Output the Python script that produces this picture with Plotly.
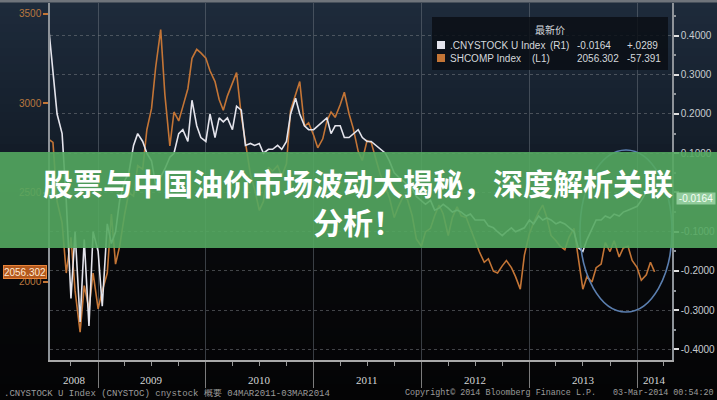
import pandas as pd
import plotly.graph_objects as go

# ---------------- data ----------------
dates = pd.date_range("2008-07-15", "2014-03-01", freq="SMS")  # semi-monthly observations

shcomp = [
    # 2008 (Jul15 .. Dec15)
    2800, 2780, 2450, 2330, 2050, 2250, 1950, 1720, 1980, 1850, 2050,
    # 2009
    1850, 1950, 2050, 2380, 2100, 2200, 2380, 2500, 2480, 2650, 2630, 2850,
    2970, 3200, 3410, 3050, 2760, 2950, 2900, 2980, 3080, 3250, 3300, 3280,
    # 2010
    3250, 3180, 3120, 3020, 2960, 3040, 3110, 3170, 2930, 2780, 2600, 2520,
    2400, 2450, 2640, 2620, 2650, 2590, 2660, 2960, 3050, 3120, 2870, 2890,
    # 2011
    2820, 2750, 2800, 2900, 2950, 2920, 2990, 3060, 2940, 2860, 2730, 2680,
    2790, 2780, 2680, 2600, 2530, 2470, 2360, 2420, 2480, 2460, 2370, 2240,
    # 2012
    2200, 2280, 2300, 2370, 2430, 2380, 2260, 2360, 2420, 2370, 2360, 2300,
    2220, 2170, 2110, 2130, 2060, 2050, 2090, 2120, 2080, 2030, 1960, 2150,
    # 2013
    2270, 2330, 2390, 2430, 2360, 2260, 2230, 2200, 2180, 2250, 2300, 2150,
    1960, 2030, 2000, 2080, 2100, 2220, 2170, 2230, 2140, 2190, 2200, 2120,
    # 2014
    2080, 2010, 2040, 2110, 2056.302,
]

cnystock = [
    # 2008
    0.44, 0.30, 0.20, 0.15, -0.02, -0.27, -0.10, -0.33, -0.12, -0.34, -0.10,
    # 2009
    -0.15, -0.29, -0.08, -0.13, -0.10, -0.02, 0.03, 0.05, 0.12, 0.15, 0.13, 0.10,
    0.08, 0.02, 0.04, 0.06, 0.09, 0.10, 0.15, 0.16, 0.13, 0.235, 0.17, 0.14,
    # 2010
    0.13, 0.20, 0.14, 0.19, 0.18, 0.19, 0.16, 0.22, 0.21, 0.12, 0.125, 0.12,
    0.125, 0.10, 0.11, 0.11, 0.12, 0.11, 0.13, 0.20, 0.24, 0.20, 0.17, 0.16,
    # 2011
    0.16, 0.17, 0.18, 0.19, 0.15, 0.17, 0.17, 0.14, 0.14, 0.15, 0.16, 0.14,
    0.13, 0.13, 0.12, 0.11, 0.10, 0.08, 0.05, 0.04, 0.03, 0.02, 0.01, -0.01,
    # 2012
    -0.02, -0.03, -0.02, -0.045, -0.04, -0.03, -0.04, -0.05, -0.045, -0.05, -0.06, -0.055,
    -0.07, -0.07, -0.07, -0.085, -0.09, -0.10, -0.11, -0.10, -0.09, -0.10, -0.095, -0.09,
    # 2013
    -0.07, -0.08, -0.06, -0.07, -0.065, -0.07, -0.08, -0.075, -0.08, -0.09, -0.10, -0.14,
    -0.15, -0.12, -0.09, -0.07, -0.07, -0.06, -0.065, -0.055, -0.06, -0.05, -0.045, -0.04,
    # 2014
    -0.035, -0.02, 0.00, 0.02, -0.0164,
]

years = [2008, 2009, 2010, 2011, 2012, 2013, 2014]
left_ticks = [2000, 2500, 3000, 3500]
right_ticks = [0.4, 0.3, 0.2, 0.1, 0.0, -0.1, -0.2, -0.3, -0.4]

legend_header = "最新价"
legend_names = [".CNYSTOCK U Index", "SHCOMP Index"]
legend_axes = ["(R1)", "(L1)"]
legend_last = ["-0.0164", "2056.302"]
legend_change = ["+.0289", "-57.391"]

title_lines = ["股票与中国油价市场波动大揭秘，深度解析关联", "分析！"]
footer_left = ".CNYSTOCK U Index (CNYSTOC) cnystock 概要 04MAR2011-03MAR2014"
footer_mid = "Copyright© 2014 Bloomberg Finance L.P."
footer_right = "03-Mar-2014 00:54:20"

# ---------------- geometry helpers ----------------
W, H = 717, 400
ML, MR, MT, MB = 50, 45, 3, 40
PW = W - ML - MR
PH = H - MT - MB


def px(x):
    return (x - ML) / PW


def py(y):
    return (H - MB - y) / PH


X0 = pd.Timestamp("2008-07-22")
X1 = pd.Timestamp("2014-04-29")

ORANGE = "#c47536"
WHITE = "#e4e4ec"

fig = go.Figure()
fig.add_trace(go.Scatter(x=dates, y=shcomp, yaxis="y", mode="lines",
                         line=dict(color=ORANGE, width=1.6), hoverinfo="skip"))
fig.add_trace(go.Scatter(x=dates, y=cnystock, yaxis="y2", mode="lines",
                         line=dict(color=WHITE, width=1.6), hoverinfo="skip"))

shapes = []

# background gradient (navy -> black)
stops = [(0, (30, 43, 59)), (140, (20, 30, 42)), (250, (7, 8, 11)), (400, (4, 4, 5))]


def bg_col(y):
    for (ya, ca), (yb, cb) in zip(stops[:-1], stops[1:]):
        if ya <= y <= yb:
            t = (y - ya) / (yb - ya)
            return "rgb(%d,%d,%d)" % tuple(round(a + (b - a) * t) for a, b in zip(ca, cb))
    return "rgb(4,4,5)"


N = 50
for i in range(N):
    ya = H * i / N
    yb = H * (i + 1) / N
    shapes.append(dict(type="rect", xref="paper", yref="paper", layer="below",
                       x0=px(0), x1=px(W), y0=py(yb + 0.5), y1=py(ya),
                       fillcolor=bg_col((ya + yb) / 2), line=dict(width=0)))

# top border
shapes.append(dict(type="rect", xref="paper", yref="paper", layer="above",
                   x0=px(0), x1=px(W), y0=py(2.5), y1=py(0),
                   fillcolor="#6f747b", line=dict(width=0)))

# legend box
shapes.append(dict(type="rect", xref="paper", yref="paper", layer="above",
                   x0=px(432), x1=px(668), y0=py(70), y1=py(17),
                   fillcolor="rgba(10,14,20,0.82)", line=dict(width=0)))
for i, col in enumerate([WHITE, ORANGE]):
    yc = 45 + 13 * i
    shapes.append(dict(type="rect", xref="paper", yref="paper", layer="above",
                       x0=px(437), x1=px(445), y0=py(yc + 4), y1=py(yc - 4),
                       fillcolor=col, line=dict(width=0)))

# hand-drawn ellipse
shapes.append(dict(type="circle", xref="paper", yref="paper", layer="above",
                   x0=px(580), x1=px(672), y0=py(312), y1=py(150),
                   line=dict(color="#5b7fb0", width=1.6)))

# green banner
shapes.append(dict(type="rect", xref="paper", yref="paper", layer="above",
                   x0=px(0), x1=px(W), y0=py(248), y1=py(152),
                   fillcolor="rgba(84,168,96,0.9)", line=dict(width=0)))

annotations = []

# last-value markers on the axes
annotations.append(dict(xref="paper", yref="y", x=px(25), y=shcomp[-1],
                        text=f"{shcomp[-1]:.3f}", showarrow=False,
                        xanchor="center", yanchor="middle", width=42, height=12,
                        bgcolor="#b4591d", bordercolor="#e8843a", borderwidth=1, borderpad=0,
                        font=dict(family="Liberation Sans", size=10, color="#ffe9d6")))
annotations.append(dict(xref="paper", yref="y2", x=px(696), y=cnystock[-1],
                        text=f"{cnystock[-1]:.4f}", showarrow=False,
                        xanchor="center", yanchor="middle", width=38, height=11,
                        bgcolor="#92cc9c", borderpad=0,
                        font=dict(family="Liberation Sans", size=10, color="#f4fff4")))

# legend texts
lf = dict(family="Liberation Sans", size=10, color="#d4d8dc")
annotations.append(dict(xref="paper", yref="paper", x=px(550), y=py(30), text=legend_header,
                        showarrow=False, xanchor="center", yanchor="middle",
                        font=dict(family="Noto Sans CJK SC", size=10, color="#d4d8dc")))
for i in range(2):
    yc = 45 + 13 * i
    for xpos, txt in [(448, legend_names[i]), (548 - 18 * i, legend_axes[i]),
                      (575, legend_last[i]), (625, legend_change[i])]:
        annotations.append(dict(xref="paper", yref="paper", x=px(xpos), y=py(yc), text=txt,
                                showarrow=False, xanchor="left", yanchor="middle", font=lf))

# year labels centred in the visible part of each year
for yr in years:
    a = max(pd.Timestamp(year=yr, month=1, day=1), X0)
    b = min(pd.Timestamp(year=yr + 1, month=1, day=1), X1)
    mid = a + (b - a) / 2
    annotations.append(dict(xref="x", yref="paper", x=mid, y=py(380), text=str(yr),
                            showarrow=False, xanchor="center", yanchor="middle",
                            font=dict(family="Liberation Serif", size=11, color="#d6d6d6")))

# footer
ff = dict(family="Liberation Mono", size=9, color="#9c9c9c")
ff2 = dict(family="Liberation Mono", size=8.4, color="#9c9c9c")
annotations.append(dict(xref="paper", yref="paper", x=px(2), y=py(393), text=footer_left,
                        showarrow=False, xanchor="left", yanchor="middle", font=ff))
annotations.append(dict(xref="paper", yref="paper", x=px(403), y=py(393), text=footer_mid,
                        showarrow=False, xanchor="left", yanchor="middle", font=ff2))
annotations.append(dict(xref="paper", yref="paper", x=px(716), y=py(393), text=footer_right,
                        showarrow=False, xanchor="right", yanchor="middle", font=ff2))

# banner title
annotations.append(dict(xref="paper", yref="paper", x=px(358), y=py(201),
                        text="<b>" + "<br>".join(title_lines) + "</b>", showarrow=False,
                        xanchor="center", yanchor="middle", align="center",
                        font=dict(family="Noto Sans CJK SC", size=30, color="#ffffff")))

fig.update_layout(
    width=W, height=H, template="none",
    margin=dict(l=ML, r=MR, t=MT, b=MB, pad=0, autoexpand=False),
    paper_bgcolor="#040405", plot_bgcolor="rgba(0,0,0,0)",
    showlegend=False,
    shapes=shapes, annotations=annotations,
    xaxis=dict(type="date", range=[X0, X1], automargin=False,
               tickmode="array", tickvals=[pd.Timestamp(year=y, month=1, day=1) for y in years[1:]],
               showticklabels=False, ticks="outside", ticklen=26, tickwidth=1,
               tickcolor="#7c7c7c",
               showgrid=True, gridcolor="rgba(110,118,128,0.5)", gridwidth=1,
               showline=True, linecolor="#a9a9a9", linewidth=2, zeroline=False,
               minor=dict(dtick="M3", tick0="2008-01-01", ticks="outside", ticklen=4,
                          tickcolor="#9a9a9a", showgrid=False)),
    yaxis=dict(range=[1564, 3559], automargin=False, tickmode="array",
               tickvals=left_ticks, ticktext=[str(v) for v in left_ticks],
               ticks="outside", ticklen=5, tickwidth=2, tickcolor=ORANGE,
               tickfont=dict(family="Liberation Sans", size=10, color="#b9773f"),
               showgrid=False, showline=True, linecolor="#8e9399", linewidth=1.5,
               zeroline=False),
    yaxis2=dict(range=[-0.4268, 0.4828], overlaying="y", side="right", automargin=False,
                tickmode="array", tickvals=right_ticks,
                ticktext=[f"{v:.4f}" if v != 0 else "" for v in right_ticks],
                ticks="outside", ticklen=5, tickwidth=2, tickcolor="#e0e0e0",
                tickfont=dict(family="Liberation Sans", size=10, color="#c8ccd0"),
                showgrid=True, gridcolor="rgba(125,130,136,0.5)", griddash="dot", gridwidth=1,
                showline=True, linecolor="#8e9399", linewidth=1.5, zeroline=False,
                minor=dict(dtick=0.05, tick0=0, ticks="outside", ticklen=2,
                           tickcolor="#8e9399", showgrid=False)),
)

fig.write_html("out.html", config={"displayModeBar": False},
               post_script="document.body.style.margin='0';")
